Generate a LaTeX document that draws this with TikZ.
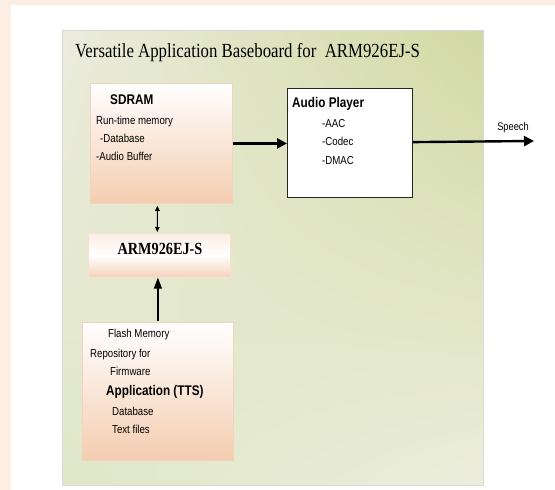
\documentclass[tikz,border=0pt]{standalone}
\usepackage{fontspec}
\usetikzlibrary{arrows.meta,calc,shadings}
\newfontfamily\boxfont[FakeStretch=0.84]{Liberation Sans}
\newfontfamily\titlefont[FakeStretch=0.84]{Liberation Serif}
\definecolor{peachbg}{HTML}{FDEEE3}
\definecolor{peachbox}{HTML}{F4CDB0}
\definecolor{peachedge}{HTML}{F3D3BD}
\definecolor{pUL}{HTML}{EBECDD}
\definecolor{pUR}{HTML}{D1D9A2}
\definecolor{pLL}{HTML}{E0E7C8}
\definecolor{pLR}{HTML}{ECEEDC}
\tikzset{
  x=1pt, y=-1pt,
  peachbox/.style={anchor=north west, inner sep=0pt, draw=peachedge, line width=0.8pt,
    top color=white, bottom color=peachbox},
  armbox/.style={anchor=north west, inner sep=0pt, draw=peachedge!70, line width=0.6pt,
    top color=peachbox!35, bottom color=peachbox!90, middle color=white},
  playerbox/.style={anchor=north west, inner sep=0pt, draw=black!85, line width=1.2pt, fill=white},
  txt/.style={anchor=west, inner sep=0pt, font=\boxfont\fontsize{11.5}{12}\selectfont, text height=1.6ex, text depth=.3ex},
  hdr/.style={anchor=west, inner sep=0pt, font=\boxfont\bfseries\fontsize{14}{15}\selectfont, text height=1.6ex, text depth=.3ex},
  bigarrow/.style={line width=2.4pt, -{Triangle[length=10pt,width=10pt]}},
}
\begin{document}
\begin{tikzpicture}
\useasboundingbox (0,0) rectangle (555,490);
% background
\fill[peachbg] (0,0) rectangle (555,490);
\fill[white] (11,5) rectangle (555,490);
% panel
\node[name=panel, anchor=north west, inner sep=0pt, minimum width=421pt, minimum height=455pt,
  draw=black!15, line width=1pt,
  upper left=pUL, upper right=pUR, lower left=pLL, lower right=pLR] at (62,30) {};
\node[name=title, anchor=west, inner sep=0pt, font=\titlefont\fontsize{20}{22}\selectfont] at (75,53)
  {Versatile Application Baseboard for \ ARM926EJ-S};
% boxes
\node[name=sdram, peachbox, minimum width=142pt, minimum height=120pt] at (90,83) {};
\node[name=arm, armbox, minimum width=142pt, minimum height=44pt] at (88,233) {};
\node[name=flash, peachbox, minimum width=151pt, minimum height=138pt] at (82,322) {};
\node[name=player, playerbox, minimum width=125pt, minimum height=109pt] at (287,88) {};
% SDRAM text
\node[name=t1, hdr] at (110,102) {SDRAM};
\node[name=t2, txt] at (96,122) {Run-time memory};
\node[name=t3, txt] at (100,140) {-Database};
\node[name=t4, txt] at (96,158) {-Audio Buffer};
% ARM text
\node[name=t5, inner sep=0pt, font=\titlefont\bfseries\fontsize{17}{18}\selectfont] at (160,249) {ARM926EJ-S};
% Audio player text
\node[name=t6, hdr] at (292,105) {Audio Player};
\node[name=t7, txt] at (322,125) {-AAC};
\node[name=t8, txt] at (322,143) {-Codec};
\node[name=t9, txt] at (322,162) {-DMAC};
% Flash text
\node[name=t10, txt] at (108,335) {Flash Memory};
\node[name=t11, txt] at (90,355) {Repository for};
\node[name=t12, txt] at (110,373) {Firmware};
\node[name=t13, hdr] at (106,393) {Application (TTS)};
\node[name=t14, txt] at (112,413) {Database};
\node[name=t15, txt] at (112,431) {Text files};
% speech
\coordinate (speechend) at (534,141);
\node[name=speech, inner sep=0pt, font=\boxfont\fontsize{11}{12}\selectfont] at (513,128) {Speech};
% connectors
\draw[bigarrow] (sdram.east) -- (sdram.east -| player.west);
\draw[bigarrow] ($(player.east)+(0,-1)$) -- (speechend);
\draw[line width=1pt, {Triangle[length=5pt,width=4.5pt]}-{Triangle[length=5pt,width=4.5pt]}]
  ([xshift=-4pt,yshift=-2pt]sdram.south) -- ([xshift=-2pt,yshift=1pt]arm.north);
\draw[line width=1.2pt, -{Triangle[length=11pt,width=8pt]}]
  ([yshift=1pt]flash.north) -- (flash.north |- arm.south);
\end{tikzpicture}
\end{document}
